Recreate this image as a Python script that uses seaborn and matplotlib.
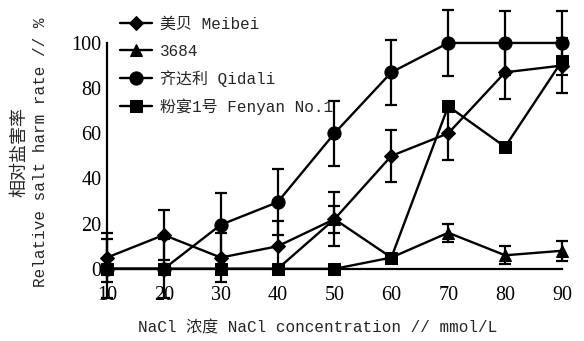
import numpy as np
import pandas as pd
import matplotlib
matplotlib.use("Agg")
import matplotlib.pyplot as plt
import seaborn as sns

sns.set_style("white")
plt.rcParams['font.family'] = ['Liberation Mono', 'Noto Sans CJK SC']

# ---- data ----
conc = [10, 20, 30, 40, 50, 60, 70, 80, 90]
varieties = ["美贝 Meibei", "3684", "齐达利 Qidali", "粉宴1号 Fenyan No.1"]
meibei = [5, 15, 5, 10, 22, 50, 60, 87, 90]
meibei_err = [11, 11, 11, 11, 12, 11.5, 12, 12, 12]
v3684 = [0, 0, 0, 0, 22, 5, 16, 6, 8]
v3684_err = [0, 0, 0, 0, 6, 0, 4, 4, 4.5]
qidali = [0, 0, 19.5, 29.5, 60, 87, 100, 100, 100]
qidali_err = [13, 13, 14, 14.5, 14.5, 14.5, 14.5, 14, 14]
fenyan = [0, 0, 0, 0, 0, 5, 72, 54, 92]
fenyan_err = [0, 0, 0, 0, 0, 0, 0, 0, 0]
xticks = [10, 20, 30, 40, 50, 60, 70, 80, 90]
yticks = [0, 20, 40, 60, 80, 100]

series = [meibei, v3684, qidali, fenyan]
errs = [meibei_err, v3684_err, qidali_err, fenyan_err]
markers = {"美贝 Meibei": "D", "3684": "^", "齐达利 Qidali": "o", "粉宴1号 Fenyan No.1": "s"}
msizes = {"美贝 Meibei": 7.5, "3684": 8.5, "齐达利 Qidali": 9.5, "粉宴1号 Fenyan No.1": 8.5}

rows = []
for name, vals in zip(varieties, series):
    for c, v in zip(conc, vals):
        rows.append({"conc": c, "rate": v, "variety": name})
df = pd.DataFrame(rows)

fig = plt.figure(figsize=(5.84, 3.41), dpi=100)
ax = fig.add_axes([0.1832, 0.1056, 0.9623 - 0.1832, 0.9933 - 0.1056])

for name, vals, e in zip(varieties, series, errs):
    sub = df[df["variety"] == name]
    ax.errorbar(conc, vals, yerr=e, fmt="none", ecolor="black", elinewidth=1.6,
                capsize=4, capthick=1.6, clip_on=False, zorder=2)
    sns.lineplot(data=sub, x="conc", y="rate", ax=ax, color="black", lw=1.7,
                 marker=markers[name], markersize=msizes[name],
                 markeredgecolor="black", markerfacecolor="black",
                 label=name, clip_on=False, zorder=3)

ax.set_xlim(10, 90)
ax.set_ylim(-16, 118)
ax.set_xticks(xticks)
ax.set_yticks(yticks)
ax.set_xlabel("")
ax.set_ylabel("")

for s in ["top", "right"]:
    ax.spines[s].set_visible(False)
ax.spines["bottom"].set_position(("data", 0))
ax.spines["bottom"].set_bounds(10, 90)
ax.spines["left"].set_bounds(0, 100)
for s in ["bottom", "left"]:
    ax.spines[s].set_color("black")
    ax.spines[s].set_linewidth(1.6)

ax.tick_params(axis="both", direction="in", length=4, width=1.5, colors="black")
ax.tick_params(axis="x", pad=12)
ax.tick_params(axis="y", pad=4)
for lab in ax.get_xticklabels() + ax.get_yticklabels():
    lab.set_fontfamily("Liberation Serif")
    lab.set_fontsize(14.5)

fig.text(41 / 584, 1 - 152 / 341, "Relative salt harm rate // %", rotation=90,
         ha="center", va="center", fontsize=11.5)
fig.text(20 / 584, 1 - 152 / 341, "相对盐害率", rotation=90,
         ha="center", va="center", fontsize=13)
fig.text(318 / 584, 1 - 328 / 341, "NaCl 浓度 NaCl concentration // mmol/L",
         ha="center", va="center", fontsize=11.5)

handles, labels = ax.get_legend_handles_labels()
leg = ax.legend(handles, labels, loc="upper left",
                bbox_to_anchor=(120 / 584, 1 - 17 / 341),
                bbox_transform=fig.transFigure, frameon=False,
                fontsize=11.5, handlelength=2.0, handletextpad=0.5,
                labelspacing=0.72, borderpad=0, borderaxespad=0)

fig.savefig("out.png", dpi=100)
